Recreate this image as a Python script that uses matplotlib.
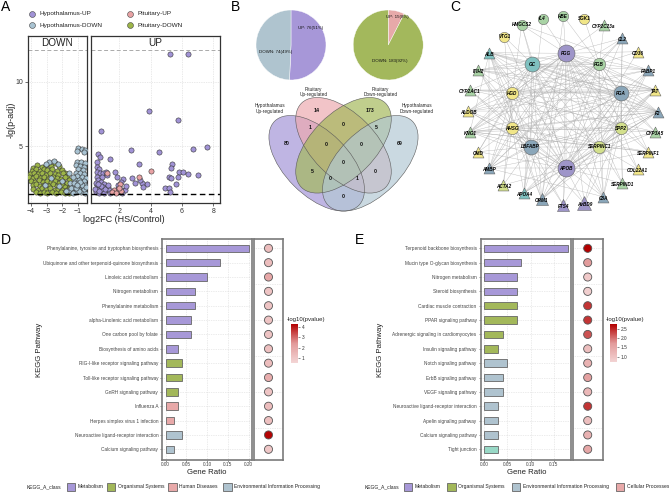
import matplotlib
matplotlib.use('Agg')
import matplotlib.pyplot as plt
from matplotlib.patches import Ellipse, Rectangle
from matplotlib.colors import LinearSegmentedColormap, Normalize
import numpy as np

plt.rcParams['font.family'] = ['Liberation Sans', 'DejaVu Sans']

W, H = 669, 492
fig = plt.figure(figsize=(W / 100, H / 100), dpi=100)


def fax(x0, y0, x1, y1, **kw):
    return fig.add_axes([x0 / W, 1 - y1 / H, (x1 - x0) / W, (y1 - y0) / H], **kw)


# ---------------- data: panel A (volcano) ----------------
hyp_up_x = [5.24, 6.36, 3.87, 5.72, 0.83, 7.62, 6.72, 4.51, 2.75, 0.66, 0.77, 1.41, 0.56, 3.28,
            5.38, 5.3, 0.6, 0.72, 0.56, 0.77, 0.98, 0.6, 0.88, 1.15, 1.2, 1.73, 1.87, 2.79, 3.0,
            3.75, 3.43, 2.26, 2.09, 1.94, 2.15, 2.36, 2.15, 1.83, 0.62, 0.83, 1.04, 0.56, 0.77,
            0.98, 1.26, 0.62, 0.9, 1.15, 0.51, 0.72, 1.04, 1.32, 1.4, 0.45, 5.81, 6.08, 6.4, 7.04,
            5.17, 5.28, 5.73, 5.6, 4.92, 5.17, 5.24, 3.32, 3.53, 0.7, 1.1, 0.85, 1.25, 0.5, 1.9,
            2.4, 0.65]
hyp_up_y = [12.15, 12.15, 7.7, 7.07, 6.17, 4.95, 4.77, 4.56, 4.74, 4.38, 4.17, 4.04, 3.78, 3.65,
            3.6, 3.34, 3.39, 3.19, 3.0, 2.88, 2.88, 2.61, 2.57, 3.0, 2.74, 3.0, 2.57, 2.49, 2.15,
            2.05, 2.15, 2.41, 2.22, 1.71, 1.58, 1.58, 1.35, 1.45, 2.33, 2.2, 2.07, 1.94, 1.81,
            1.81, 1.81, 1.61, 1.55, 1.55, 1.42, 1.35, 1.35, 1.55, 1.35, 1.68, 3.0, 3.0, 2.8, 2.74,
            2.61, 2.49, 2.61, 2.05, 1.76, 1.71, 1.45, 2.36, 1.79, 1.5, 1.7, 1.9, 2.0, 2.1, 2.0,
            1.9, 2.05]
pit_up_x = [1.23, 4.05, 3.28, 2.02, 1.66, 1.51, 1.95, 2.1, 1.8, 2.0]
pit_up_y = [2.88, 3.06, 2.61, 2.05, 1.58, 1.45, 1.62, 1.48, 1.38, 1.78]
hyp_down_x = [-1.02, -0.75, -0.53, -1.06, -0.62, -2.83, -2.51, -2.3, -3.04,
              -1.05, -0.8, -0.55, -1.1, -0.85, -0.6, -1.0, -0.7, -1.15, -0.9, -0.6, -1.05, -0.75,
              -0.5, -1.2, -0.95, -0.65, -1.1, -0.8, -0.55, -1.3, -1.0, -0.7, -1.2, -0.9, -0.6,
              -1.4, -1.1, -0.8, -0.55, -1.5, -1.6, -1.35, -1.55, -2.2, -2.7, -3.1, -2.0, -1.75,
              -1.45, -1.25, -0.95, -0.65, -0.75, -1.35, -1.15, -0.85, -0.5, -1.05]
hyp_down_y = [4.87, 4.77, 4.74, 4.61, 4.55, 3.78, 3.83, 3.65, 3.65,
              3.8, 3.75, 3.7, 3.5, 3.45, 3.4, 3.2, 3.15, 2.95, 2.9, 2.85, 2.65, 2.6,
              2.55, 2.4, 2.35, 2.3, 2.1, 2.05, 2.0, 1.9, 1.85, 1.8, 1.6, 1.6, 1.55,
              1.45, 1.4, 1.4, 1.35, 2.1, 1.6, 2.6, 2.95, 1.9, 2.5, 2.0, 2.3, 1.5,
              1.75, 2.15, 1.5, 1.65, 1.95, 1.35, 1.75, 2.2, 1.85, 2.0]
pit_down_x = [-3.85, -3.6, -3.3, -3.05, -2.75, -2.47, -2.2,
              -3.95, -3.7, -3.45, -3.2, -2.95, -2.65, -2.35, -2.05, -1.8,
              -4.05, -3.8, -3.55, -3.3, -3.05, -2.8, -2.5, -2.25, -1.95, -1.72,
              -4.15, -3.9, -3.65, -3.4, -3.15, -2.9, -2.6, -2.35, -2.1, -1.85, -1.6,
              -4.0, -3.75, -3.5, -3.25, -3.0, -2.75, -2.45, -2.2, -1.95, -1.7, -1.45,
              -3.9, -3.65, -3.4, -3.15, -2.85, -2.6, -2.35, -2.05, -1.8, -1.55,
              -3.85, -3.55, -3.3, -3.05, -2.8, -2.5, -2.25, -2.0, -1.7, -1.45,
              -3.7, -3.45, -3.2, -2.95, -2.65, -2.4, -2.1, -1.85, -1.6, -1.35]
pit_down_y = [3.34, 3.5, 3.41, 3.55, 3.48, 3.67, 3.45,
              3.1, 3.22, 3.05, 3.2, 3.12, 3.25, 3.1, 3.18, 2.95,
              2.85, 2.95, 2.8, 2.9, 2.78, 2.92, 2.85, 2.75, 2.88, 2.7,
              2.61, 2.55, 2.68, 2.5, 2.62, 2.48, 2.6, 2.52, 2.45, 2.58, 2.35,
              2.3, 2.2, 2.35, 2.25, 2.32, 2.18, 2.28, 2.15, 2.22, 2.1, 2.0,
              1.98, 2.05, 1.9, 2.0, 1.92, 2.02, 1.88, 1.95, 1.85, 1.75,
              1.7, 1.62, 1.75, 1.65, 1.72, 1.6, 1.68, 1.58, 1.62, 1.5,
              1.42, 1.38, 1.45, 1.35, 1.4, 1.36, 1.44, 1.38, 1.34, 1.4]
volcano_labels = ['Hypothalamus-UP', 'Hypothalamus-DOWN', 'Pituitary-UP', 'Pituitary-DOWN']
C_HUP, C_HDN, C_PUP, C_PDN = '#A193D6', '#A9C3D2', '#E8A2A4', '#9DB548'
padj_line = 1.3
padj_top = 12.5

# ---------------- data: panel B ----------------
pie_hyp = [76, 74]
pie_hyp_labels = ['UP: 76(51%)', 'DOWN: 74(49%)']
pie_pit = [15, 183]
pie_pit_labels = ['UP: 15(8%)', 'DOWN: 183(92%)']
venn_sets = ['Hypothalamus\nUp-regulated', 'Pituitary\nUp-regulated',
             'Pituitary\nDown-regulated', 'Hypothalamus\nDown-regulated']
venn_counts = {'HU': 80, 'PU': 14, 'PD': 173, 'HD': 69, 'HU&PU': 1, 'PU&PD': 0, 'PD&HD': 5,
               'HU&PU&PD': 0, 'PU&PD&HD': 0, 'ALL': 0, 'HU&PD': 5, 'HU&PD&HD': 0,
               'HU&PU&HD': 1, 'PU&HD': 0, 'HU&HD': 0}

# ---------------- data: panel C (network) ----------------
nodes = {  # name: (x, y, shape, colour key, size key)
    'IL4': (542.7, 19, 'o', 'g', 's'), 'HBE': (563.3, 16, 'o', 'g', 's'),
    'SGK1': (584.3, 19, 'o', 'y', 's'), 'HMGCS2': (521.7, 25, 'o', 'g', 's'),
    'CYP2C23a': (604, 25, '^', 'g', 't'), 'VTG1': (504.3, 36.7, 'o', 'y', 's'),
    'CL2': (622.3, 38.3, '^', 'b', 't'), 'ALB': (489.3, 52.7, '^', 'c', 't'),
    'FGG': (565.7, 53.3, 'o', 'p', 'xl'), 'CD36': (637.7, 51.7, '^', 'y', 't'),
    'GC': (532.3, 64, 'o', 'c', 'l'), 'FGB': (599.3, 64, 'o', 'g', 'm'),
    'ITIH2': (478.3, 70, '^', 'g', 't'), 'FABP1': (648.3, 70, '^', 'b', 't'),
    'CYP2AC1': (470, 90, '^', 'g', 't'), 'HGD': (512.3, 93.3, 'o', 'y', 'm'),
    'FGA': (621, 93.3, 'o', 'b', 'l'), 'TAT': (655, 90, '^', 'y', 't'),
    'ALDOB': (468.3, 111, '^', 'y', 't'), 'F2': (657.7, 111.7, '^', 'b', 't'),
    'AHSG': (512.3, 128.3, 'o', 'y', 'm'), 'SPP2': (621, 128.3, 'o', 'yg', 'm'),
    'KNG1': (470, 131.7, '^', 'g', 't'), 'CYP3A5': (655, 131.7, '^', 'g', 't'),
    'LBFABP': (530.7, 146.7, 'o', 'b', 'l'), 'SERPINC1': (599.3, 146.7, 'o', 'yg', 'm'),
    'OMD': (478.3, 151.7, '^', 'y', 't'), 'SERPINF1': (648.3, 151.7, '^', 'y', 't'),
    'APOB': (565.7, 168.3, 'o', 'p', 'xl'), 'AMBP': (489.3, 168.3, '^', 'b', 't'),
    'COL22A1': (637.7, 169.3, '^', 'y', 't'), 'ACTA2': (503.3, 185, '^', 'yg', 't'),
    'SERPIND1': (622.3, 183.3, '^', 'g', 't'), 'APOA4': (524, 192.7, '^', 'c', 't'),
    'ORM1': (541.7, 199.3, '^', 'b', 'tl'), 'FTS4': (563.3, 205, '^', 'p', 'tl'),
    'AvBD9': (584.3, 203.3, '^', 'p', 'tx'), 'C8A': (603.3, 196.7, '^', 'b', 't'),
}
adjacency = {
    'FGG': 'GC FGB HGD FGA AHSG SPP2 LBFABP SERPINC1 APOB ALB ITIH2 HMGCS2 IL4 HBE CL2 CD36 FABP1 TAT F2 KNG1 CYP3A5 SERPINF1 AMBP COL22A1 ORM1 C8A APOA4 FTS4 AvBD9 SERPIND1 ALDOB',
    'APOB': 'GC FGB HGD FGA AHSG SPP2 LBFABP SERPINC1 ALB ITIH2 VTG1 HMGCS2 CYP2AC1 ALDOB KNG1 OMD AMBP ACTA2 APOA4 ORM1 FTS4 AvBD9 C8A SERPIND1 COL22A1 SERPINF1 CYP3A5 F2 TAT FABP1 CD36 CL2',
    'FGA': 'GC FGB HGD AHSG SPP2 LBFABP SERPINC1 ALB ITIH2 CL2 FABP1 TAT F2 CYP3A5 SERPINF1 KNG1 AMBP ORM1 C8A APOA4 SERPIND1 ALDOB CYP2AC1 HBE',
    'GC': 'FGB HGD AHSG SPP2 LBFABP SERPINC1 ALB ITIH2 VTG1 HMGCS2 CYP2AC1 ALDOB KNG1 OMD AMBP APOA4 ORM1 F2 TAT FABP1 C8A',
    'FGB': 'HGD AHSG SPP2 LBFABP SERPINC1 ALB CL2 CD36 FABP1 TAT F2 KNG1 AMBP ORM1 C8A ITIH2 CYP2C23a SGK1',
    'HGD': 'AHSG SPP2 LBFABP SERPINC1 ALB ITIH2 CYP2AC1 ALDOB KNG1 OMD TAT F2 FABP1 CYP2C23a HMGCS2 AMBP ACTA2',
    'AHSG': 'SPP2 LBFABP SERPINC1 ALB ITIH2 ALDOB KNG1 OMD AMBP ACTA2 APOA4 ORM1 FTS4 F2 TAT CYP3A5 SERPINF1 VTG1',
    'SPP2': 'LBFABP SERPINC1 CL2 FABP1 TAT F2 CYP3A5 SERPINF1 COL22A1 SERPIND1 C8A AvBD9 ORM1 KNG1 ALB',
    'LBFABP': 'SERPINC1 ALB ITIH2 KNG1 AMBP ACTA2 APOA4 ORM1 FTS4 AvBD9 OMD ALDOB CYP2AC1 F2',
    'SERPINC1': 'ALB F2 TAT FABP1 CYP3A5 SERPINF1 COL22A1 SERPIND1 C8A AvBD9 FTS4 ORM1 KNG1 AMBP',
    'ALB': 'F2 KNG1 AMBP ORM1 C8A TAT',
    'ITIH2': 'F2 TAT', 'KNG1': 'F2 SERPINF1', 'AMBP': 'C8A', 'ORM1': 'F2',
    'CYP2AC1': 'TAT CYP3A5', 'ALDOB': 'FABP1 F2', 'HMGCS2': 'FABP1', 'CL2': 'KNG1 AMBP',
    'F2': 'APOA4', 'IL4': 'APOA4', 'HBE': 'ORM1', 'TAT': 'APOA4',
}
node_colors = {'p': '#9E95C9', 'c': '#7FC1C0', 'b': '#8AA6B9', 'g': '#A9D3A5',
               'y': '#F1E688', 'yg': '#D3E08C'}
node_sizes = {'xl': 150, 'l': 115, 'm': 78, 's': 55, 't': 62, 'tl': 75, 'tx': 100}

# ---------------- data: panels D & E ----------------
d_terms = ['Phenylalanine, tyrosine and tryptophan biosynthesis',
           'Ubiquinone and other terpenoid-quinone biosynthesis', 'Linoleic acid metabolism',
           'Nitrogen metabolism', 'Phenylalanine metabolism', 'alpha-Linolenic acid metabolism',
           'One carbon pool by folate', 'Biosynthesis of amino acids',
           'RIG-I-like receptor signaling pathway', 'Toll-like receptor signaling pathway',
           'GnRH signaling pathway', 'Influenza A', 'Herpes simplex virus 1 infection',
           'Neuroactive ligand-receptor interaction', 'Calcium signaling pathway']
d_ratio = [0.20, 0.13, 0.10, 0.07, 0.07, 0.06, 0.06, 0.03, 0.04, 0.04, 0.03, 0.03, 0.02, 0.04, 0.02]
d_class = ['Met'] * 8 + ['Org'] * 3 + ['Hum'] * 2 + ['Env'] * 2
d_logp = [1.3, 1.3, 2.0, 1.1, 1.1, 1.1, 1.1, 1.2, 1.3, 1.8, 1.1, 1.3, 1.2, 4.2, 1.0]

e_terms = ['Terpenoid backbone biosynthesis', 'Mucin type O-glycan biosynthesis',
           'Nitrogen metabolism', 'Steroid biosynthesis', 'Cardiac muscle contraction',
           'PPAR signaling pathway', 'Adrenergic signaling in cardiomyocytes',
           'Insulin signaling pathway', 'Notch signaling pathway', 'ErbB signaling pathway',
           'VEGF signaling pathway', 'Neuroactive ligand-receptor interaction',
           'Apelin signaling pathway', 'Calcium signaling pathway', 'Tight junction']
e_ratio = [0.18, 0.08, 0.07, 0.07, 0.07, 0.07, 0.04, 0.03, 0.05, 0.04, 0.04, 0.03, 0.03, 0.03, 0.03]
e_class = ['Met'] * 4 + ['Org'] * 4 + ['Env'] * 6 + ['Cel']
e_logp = [2.8, 1.7, 0.9, 0.8, 2.4, 2.4, 2.2, 1.1, 1.3, 1.6, 1.2, 2.4, 1.1, 1.3, 1.5]

class_colors = {'Met': '#A798D8', 'Org': '#A3B85A', 'Hum': '#E8A9A9', 'Env': '#AFC3CF',
                'Cel': '#98D8C6'}
d_legend = [('Metabolism', '#A798D8'), ('Organismal Systems', '#A3B85A'),
            ('Human Diseases', '#E8A9A9'), ('Environmental Information Processing', '#AFC3CF')]
e_legend = [('Metabolism', '#A798D8'), ('Organismal Systems', '#A3B85A'),
            ('Environmental Information Processing', '#AFC3CF'), ('Cellular Processes', '#E8A9A9')]

TXT = '#222222'

# ================= Panel A =================
axL = fax(27.7, 35.7, 87.3, 202.7)
axR = fax(91, 35.7, 220, 202.7)
for ax, xl in ((axL, (-4.21, -0.41)), (axR, (0.19, 8.43))):
    ax.set_xlim(*xl)
    ax.set_ylim(0.6, 13.6)
    for s in ax.spines.values():
        s.set_color('#333333'); s.set_linewidth(0.9)
    ax.grid(True, ls=(0, (1, 1.5)), color='#D5D5D5', lw=0.5)
    ax.set_axisbelow(True)
    ax.tick_params(labelsize=5, length=2, width=0.5, colors='#333333', pad=1.5)
    ax.axhline(padj_line, color='black', lw=1.0, ls=(0, (4, 2.5)), zorder=5)
    ax.axhline(padj_top, color='#AAAAAA', lw=0.7, ls=(0, (4, 2.5)), zorder=1)
axL.set_xticks([-4, -3, -2, -1])
axL.set_yticks([5, 10])
axR.set_xticks([2, 4, 6, 8])
axR.set_yticks([5, 10])
axR.tick_params(left=False, labelleft=False)
kw = dict(s=14, edgecolors='#333333', linewidths=0.4, zorder=3)
axL.scatter(pit_down_x, pit_down_y, c=C_PDN, **kw)
axL.scatter(hyp_down_x, hyp_down_y, c=C_HDN, **kw)
axR.scatter(hyp_up_x, hyp_up_y, c=C_HUP, **kw)
axR.scatter(pit_up_x, pit_up_y, c=C_PUP, **kw)
axL.text(-2.31, 13.0, 'DOWN', ha='center', va='center', fontsize=7.2, color=TXT)
axR.text(4.31, 13.0, 'UP', ha='center', va='center', fontsize=7.2, color=TXT)

# ================= overlay (pixel coords) =================
ov = fax(0, 0, W, H, zorder=0)
ov.set_xlim(0, W); ov.set_ylim(H, 0); ov.axis('off')
ov.patch.set_alpha(0)

for lab, (x, y) in (('A', (6, 7)), ('B', (236, 7)), ('C', (455, 7)), ('D', (6, 240)),
                    ('E', (359, 240))):
    ov.text(x, y, lab, fontsize=10, ha='center', va='center', color='black')

for lab, col, (x, y) in zip(volcano_labels, [C_HUP, C_HDN, C_PUP, C_PDN],
                            [(31.7, 14), (31.7, 25), (130, 14), (130, 25)]):
    ov.scatter([x], [y], s=18, c=col, edgecolors='#444444', linewidths=0.4)
    ov.text(x + 7.5, y, lab, fontsize=4.6, va='center', ha='left', color=TXT)
ov.text(11, 120, '-lg(p-adj)', rotation=90, fontsize=6.5, ha='center', va='center', color=TXT)
ov.text(124, 220, 'log2FC (HS/Control)', fontsize=6.5, ha='center', va='center', color=TXT)

# ================= Panel B: pies =================
for (cx, cy), vals, labs, cols, lpos in (
        ((291, 45), pie_hyp, pie_hyp_labels, ['#A797D8', '#AFC4CF'], [(0.55, 0.5), (-0.45, -0.2)]),
        ((388.2, 45), pie_pit, pie_pit_labels, ['#E7A9A9', '#A3B85C'], [(0.25, 0.8), (0.05, -0.46)])):
    r = 35
    pa = fax(cx - r, cy - r, cx + r, cy + r)
    pa.pie(vals, colors=cols, startangle=90, counterclock=False, radius=1,
           wedgeprops=dict(edgecolor='white', linewidth=0.3))
    pa.set_xlim(-1, 1); pa.set_ylim(-1, 1)
    for lab, (lx, ly) in zip(labs, lpos):
        pa.text(lx, ly, lab, fontsize=3.2, ha='center', va='center', color='#111111')

# ================= Panel B: Venn =================
va = fax(250, 80, 440, 215)
va.set_xlim(250, 440); va.set_ylim(215, 80); va.axis('off')
ell = [((316.7, 163.3), 45, '#A192D6'), ((343.5, 145.3), 45, '#EDA8AE'),
       ((343.5, 145.3), -45, '#A2B857'), ((370.3, 163.3), -45, '#B2C8D4')]
for (c, ang, col) in ell:
    va.add_patch(Ellipse(c, 119, 64, angle=ang, facecolor=col, alpha=0.68,
                         edgecolor='none'))
for (c, ang, col) in ell:
    va.add_patch(Ellipse(c, 119, 64, angle=ang, facecolor='none', edgecolor='#5A5A5A',
                         lw=0.4))
for lab, (x, y) in zip(venn_sets, [(270, 108.5), (313.3, 91.7), (380.7, 91.7), (416.6, 108.5)]):
    va.text(x, y, lab, fontsize=3.4, ha='center', va='center', color=TXT, linespacing=1.1)
venn_pos = {'HU': (286.7, 143.3), 'PU': (316.7, 110), 'PD': (370, 110), 'HD': (400, 143.3),
            'HU&PU': (310, 127.7), 'PU&PD': (343.3, 124), 'PD&HD': (376.7, 127.7),
            'HU&PU&PD': (326, 144), 'PU&PD&HD': (361.3, 144), 'ALL': (343.3, 162.7),
            'HU&PD': (312.3, 171.7), 'HU&PD&HD': (330, 179), 'HU&PU&HD': (356.7, 179),
            'PU&HD': (375.7, 171.7), 'HU&HD': (343.3, 196.7)}
for k, v in venn_counts.items():
    x, y = venn_pos[k]
    va.text(x, y, str(v), fontsize=3.8, ha='center', va='center', color='#111111',
            fontweight='bold')

# ================= Panel C: network =================
na = fax(455, 0, W, 215)
na.set_xlim(455, W); na.set_ylim(215, 0); na.axis('off')
for a, targets in adjacency.items():
    for b in targets.split():
        xa, ya = nodes[a][:2]; xb, yb = nodes[b][:2]
        na.plot([xa, xb], [ya, yb], color='#AAAAAA', lw=0.3, alpha=0.8, zorder=1)
for name, (x, y, shp, ck, sk) in nodes.items():
    na.scatter([x], [y], marker=shp, s=node_sizes[sk], c=node_colors[ck],
               edgecolors='#666666', linewidths=0.4, zorder=3)
    na.text(x, y + (1.5 if shp == '^' else 0), name, fontsize=3.3, fontweight='bold',
            fontstyle='italic', ha='center', va='center', color='black', zorder=4)

# ================= Panels D & E =================
cmap_red = LinearSegmentedColormap.from_list('reds', ['#F3D4D4', '#E29A9A', '#B30000'])


def kegg(bx0, bx1, dx1, xlim, xticks, terms, ratio, cls, logp, vmin, vmax,
         cb_box, cb_ticks, legend, leg_x, leg_title_x, ylab_x, xlab_x):
    n = len(terms)
    top, bot = 239.3, 460
    ba = fax(bx0, top, bx1, bot)
    da = fax(bx1 + 2, top, dx1, bot)
    yy = np.arange(n)
    for ax in (ba, da):
        ax.set_ylim(n - 1 + 0.745, -0.627)
        for s in ax.spines.values():
            s.set_color('#7A7A7A'); s.set_linewidth(1.2)
    ba.set_xlim(*xlim)
    ba.grid(True, ls=(0, (1, 1.5)), color='#D8D8D8', lw=0.5)
    ba.set_axisbelow(True)
    ba.barh(yy, ratio, height=0.52, color=[class_colors[c] for c in cls],
            edgecolor='#666666', linewidth=0.6, zorder=3)
    ba.set_yticks(yy)
    ba.set_yticklabels(terms, fontsize=3.4, color=TXT)
    ba.set_xticks(xticks)
    ba.set_xticklabels(['%.2f' % t for t in xticks], fontsize=3.4, color=TXT)
    ba.tick_params(axis='y', length=1.8, width=0.4, pad=1.2, colors='#444444')
    ba.tick_params(axis='x', length=1.2, width=0.4, pad=0.6, colors='#444444')
    da.set_xlim(-1, 1)
    da.grid(True, axis='y', ls=(0, (1, 1.5)), color='#D8D8D8', lw=0.5)
    da.set_axisbelow(True)
    norm = Normalize(vmin, vmax)
    da.scatter(np.zeros(n), yy, s=34, c=logp, cmap=cmap_red, norm=norm,
               edgecolors='#555555', linewidths=0.6, zorder=3)
    da.set_xticks([]); da.tick_params(left=False, labelleft=False)
    # colorbar
    cx0, cy0, cx1, cy1 = cb_box
    ca = fax(cx0, cy0, cx1, cy1)
    cb = fig.colorbar(plt.cm.ScalarMappable(norm=norm, cmap=cmap_red), cax=ca)
    cb.set_ticks(cb_ticks)
    cb.ax.tick_params(labelsize=3.4, length=1.5, width=0.4, pad=1, colors='#333333')
    cb.outline.set_visible(False)
    ov.text(cx0 - 4, cy0 - 5, '-log10(pvalue)', fontsize=4.3, ha='left', va='center', color=TXT)
    # labels
    ov.text(ylab_x, 350, 'KEGG Pathway', rotation=90, fontsize=5.6, ha='center', va='center',
            color=TXT)
    ov.text(xlab_x, 472.5, 'Gene Ratio', fontsize=5.6, ha='center', va='center', color=TXT)
    # legend
    ov.text(leg_title_x, 486.7, 'KEGG_A_class', fontsize=3.6, ha='left', va='center', color=TXT)
    for (lab, col), x in zip(legend, leg_x):
        ov.add_patch(Rectangle((x, 482.5), 8.3, 8.3, facecolor=col, edgecolor='#666666',
                               lw=0.6))
        ov.text(x + 11, 486.7, lab, fontsize=3.6, ha='left', va='center', color=TXT)


kegg(162.3, 252.3, 282.7, (-0.008, 0.2087), [0.00, 0.05, 0.10, 0.15, 0.20], d_terms, d_ratio,
     d_class, d_logp, 0.57, 4.25, (291, 324, 298.3, 362.7), [1, 2, 3, 4], d_legend,
     [66.7, 106.7, 168.3, 223.3], 26.7, 39.3, 207)
kegg(480.7, 570.7, 602.7, (-0.0071, 0.1857), [0.00, 0.05, 0.10, 0.15], e_terms, e_ratio,
     e_class, e_logp, 0.70, 2.75, (610, 324.3, 617.3, 362.3), [1.0, 1.5, 2.0, 2.5], e_legend,
     [404, 447.3, 511.7, 616], 365, 380, 526.7)

fig.savefig('out.png', dpi=100)
